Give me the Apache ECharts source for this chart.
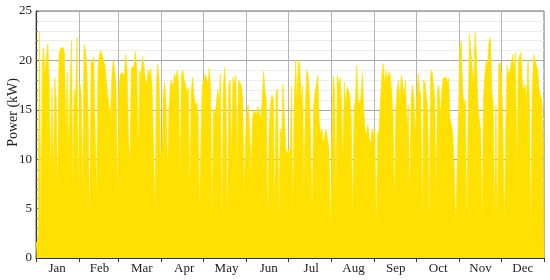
<!DOCTYPE html>
<html><head><meta charset="utf-8">
<script src="https://cdn.jsdelivr.net/npm/echarts@6/dist/echarts.min.js"></script>
<style>html,body{margin:0;padding:0;background:#fff}#c{width:550px;height:280px}</style>
</head><body><div id="c"></div>
<script>
const monthNames = ['Jan','Feb','Mar','Apr','May','Jun','Jul','Aug','Sep','Oct','Nov','Dec'];
const yTicks = [0,5,10,15,20,25];
// daily peak power (kW)
const jan = [1.5,1.8,22.9,2.7,19.5,21.3,18.6,18.4,21.7,18.0,7.8,17.3,8.6,18.2,16.0,5.6,20.5,21.2,21.0,21.3,20.8,12.0,18.8,10.5,17.5,22.0,6.9,17.0,16.5,22.3,5.9];
const feb = [17.7,16.5,6.0,21.6,21.0,19.5,14.5,2.3,19.7,20.0,20.3,20.5,5.8,19.0,20.5,21.0,20.8,20.0,19.5,18.0,16.5,15.4,14.0,18.5,20.0,19.2,17.5,5.4];
const mar = [17.0,18.5,18.8,19.0,18.5,20.6,19.0,12.0,9.4,19.2,19.0,19.5,20.9,18.8,10.5,19.0,18.5,20.4,19.5,18.0,17.5,19.0,18.5,19.2,17.0,17.0,4.4,17.5,19.6,18.0,10.5];
const apr = [11.0,16.5,17.8,15.5,8.4,15.0,17.5,18.0,17.0,18.6,18.2,19.0,17.5,8.0,18.5,19.0,18.0,17.5,16.8,17.2,6.1,17.0,18.3,16.5,15.5,15.8,14.5,4.6,12.0,17.5];
const may = [18.0,18.6,18.2,17.5,19.2,17.0,3.7,15.0,14.5,15.5,17.0,16.0,18.6,2.3,17.0,19.3,16.5,2.2,17.5,18.0,10.0,18.3,17.5,18.5,10.5,18.0,18.2,17.5,16.0,6.0,12.0];
const jun = [15.0,15.5,13.0,8.5,14.0,15.0,15.2,14.5,15.3,15.5,14.0,16.0,18.9,17.0,16.0,2.8,13.0,15.5,16.5,16.1,3.8,16.7,17.1,3.5,13.0,12.5,17.6,17.8,11.0,10.5];
const jul = [11.0,10.5,17.4,4.3,15.0,20.0,16.0,20.0,19.5,15.8,17.5,6.4,15.0,19.0,18.5,16.5,11.0,4.0,15.5,16.8,17.5,18.5,14.0,12.5,13.0,11.5,12.5,13.0,12.0,11.0,2.0];
const aug = [12.0,18.4,17.0,5.9,18.5,17.6,18.2,15.5,9.5,17.8,15.5,17.3,17.5,16.5,14.0,3.4,15.0,16.0,19.5,16.0,15.5,16.5,18.7,15.0,13.0,12.5,13.5,12.0,11.5,13.0,12.5];
const sep = [13.0,2.2,12.5,13.0,16.0,18.5,19.7,17.5,19.0,18.0,18.8,18.5,17.0,14.5,5.0,15.0,17.0,18.0,16.0,18.5,17.5,16.3,18.0,13.0,15.5,5.5,16.0,17.5,16.3,12.0];
const oct = [16.0,18.7,17.0,16.5,3.2,18.0,17.7,17.5,15.0,2.6,18.6,19.0,17.5,16.0,5.5,17.0,17.5,14.5,16.5,18.2,18.0,18.3,17.8,18.2,14.0,13.5,12.5,9.0,3.0,9.0,14.0];
const nov = [21.2,22.0,17.0,15.5,16.0,2.2,14.0,22.7,22.8,19.0,17.5,22.8,20.5,15.5,14.0,13.0,3.0,16.0,18.5,20.0,19.5,21.9,22.3,17.0,15.5,3.7,15.5,2.3,19.5,19.8];
const dec = [18.5,13.5,2.5,13.0,19.5,18.5,19.0,18.8,20.6,19.0,20.8,8.5,19.5,20.5,20.8,17.5,17.0,17.5,16.0,20.0,16.0,1.8,16.5,20.6,20.8,19.5,19.0,17.0,16.5,16.0,10.5];

const months = [jan,feb,mar,apr,may,jun,jul,aug,sep,oct,nov,dec];
const YEAR = 2023;
const DAY = 86400000;
const data = [];
months.forEach((arr, m) => {
  arr.forEach((v, d) => data.push([new Date(YEAR, m, d + 1, 12).getTime(), v]));
});
const tStart = new Date(YEAR, 0, 1).getTime();
const tEnd = new Date(YEAR + 1, 0, 1).getTime();
data.unshift([tStart, jan[0]]);
data.push([tEnd, dec[dec.length - 1]]);

const font = "'Liberation Serif', 'DejaVu Serif', serif";
const chart = echarts.init(document.getElementById('c'), null, {renderer: 'canvas'});
chart.setOption({
  animation: false,
  grid: {left: 36, right: 6, top: 11, bottom: 22, show: true, borderColor: '#6e6e6e', borderWidth: 1, backgroundColor: 'transparent'},
  xAxis: [{
    type: 'time', min: tStart, max: tEnd, minInterval: 28 * DAY, maxInterval: 31 * DAY, splitNumber: 12,
    axisLine: {show: true, lineStyle: {color: '#333', width: 1}},
    axisTick: {show: true, length: 4, lineStyle: {color: '#333'}},
    axisLabel: {show: false},
    splitLine: {show: true, lineStyle: {color: '#b4b4b4', width: 1}}
  }, {
    type: 'category', data: monthNames, position: 'bottom', boundaryGap: true,
    axisLine: {show: false}, axisTick: {show: false}, splitLine: {show: false},
    axisLabel: {color: '#222', fontFamily: font, fontSize: 13, margin: 4, interval: 0}
  }],
  yAxis: {
    type: 'value', min: yTicks[0], max: yTicks[yTicks.length - 1], interval: 5,
    axisLine: {show: true, lineStyle: {color: '#333'}},
    axisTick: {show: true, inside: true, length: 3, lineStyle: {color: '#555'}},
    minorTick: {show: true, splitNumber: 5, length: 2, lineStyle: {color: '#777'}},
    axisLabel: {color: '#222', fontFamily: font, fontSize: 13, margin: 4},
    splitLine: {show: true, lineStyle: {color: '#a8a8a8', width: 1}},
    minorSplitLine: {show: true, lineStyle: {color: '#ececec', width: 1}}
  },
  graphic: [{
    type: 'text', left: 6, top: 78, rotation: Math.PI / 2,
    style: {text: 'Power (kW)', fill: '#222', font: "14px 'Liberation Serif', serif"}
  }],
  series: [{
    type: 'line', xAxisIndex: 0, data: data, symbol: 'none', sampling: 'none',
    lineStyle: {width: 0.6, color: '#FFE000'},
    areaStyle: {color: '#FFE000', opacity: 1},
    z: 5
  }]
});
</script></body></html>
